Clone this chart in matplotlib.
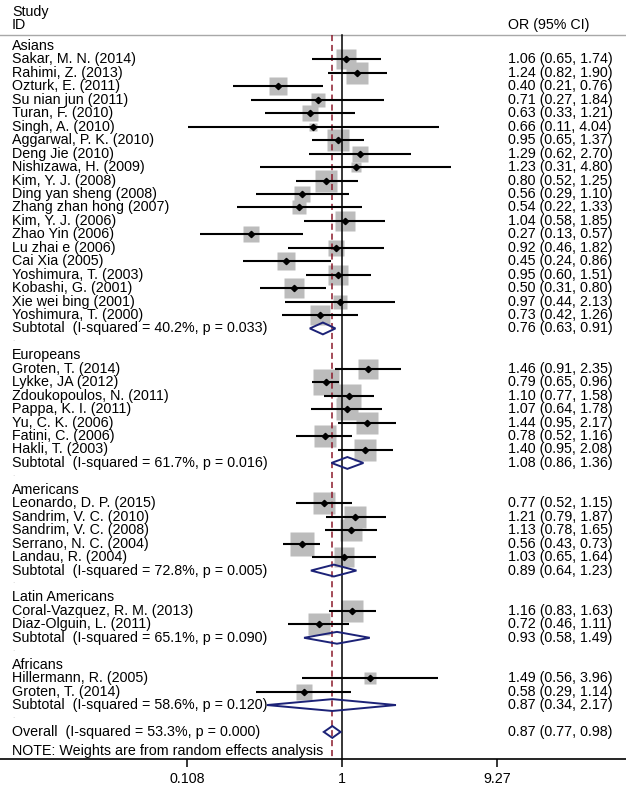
import numpy as np
import matplotlib
matplotlib.use("Agg")
import matplotlib.pyplot as plt
import matplotlib.transforms as mtransforms
from matplotlib.patches import Polygon

plt.rcParams['font.family'] = ['Liberation Sans', 'DejaVu Sans']

# ---------------------------------------------------------------- data ----
groups = ["Asians", "Europeans", "Americans", "Latin Americans", "Africans"]

studies = [
    ["Sakar, M. N. (2014)", "Rahimi, Z. (2013)", "Ozturk, E. (2011)", "Su nian jun (2011)",
     "Turan, F. (2010)", "Singh, A. (2010)", "Aggarwal, P. K. (2010)", "Deng Jie (2010)",
     "Nishizawa, H. (2009)", "Kim, Y. J. (2008)", "Ding yan sheng (2008)", "Zhang zhan hong (2007)",
     "Kim, Y. J. (2006)", "Zhao Yin (2006)", "Lu zhai e (2006)", "Cai Xia (2005)",
     "Yoshimura, T. (2003)", "Kobashi, G. (2001)", "Xie wei bing (2001)", "Yoshimura, T. (2000)"],
    ["Groten, T. (2014)", "Lykke, JA (2012)", "Zdoukopoulos, N. (2011)", "Pappa, K. I. (2011)",
     "Yu, C. K. (2006)", "Fatini, C. (2006)", "Hakli, T. (2003)"],
    ["Leonardo, D. P. (2015)", "Sandrim, V. C. (2010)", "Sandrim, V. C. (2008)",
     "Serrano, N. C. (2004)", "Landau, R. (2004)"],
    ["Coral-Vazquez, R. M. (2013)", "Diaz-Olguin, L. (2011)"],
    ["Hillermann, R. (2005)", "Groten, T. (2014)"],
]
odds = [
    [1.06, 1.24, 0.40, 0.71, 0.63, 0.66, 0.95, 1.29, 1.23, 0.80, 0.56, 0.54, 1.04, 0.27, 0.92, 0.45,
     0.95, 0.50, 0.97, 0.73],
    [1.46, 0.79, 1.10, 1.07, 1.44, 0.78, 1.40],
    [0.77, 1.21, 1.13, 0.56, 1.03],
    [1.16, 0.72],
    [1.49, 0.58],
]
lower = [
    [0.65, 0.82, 0.21, 0.27, 0.33, 0.11, 0.65, 0.62, 0.31, 0.52, 0.29, 0.22, 0.58, 0.13, 0.46, 0.24,
     0.60, 0.31, 0.44, 0.42],
    [0.91, 0.65, 0.77, 0.64, 0.95, 0.52, 0.95],
    [0.52, 0.79, 0.78, 0.43, 0.65],
    [0.83, 0.46],
    [0.56, 0.29],
]
upper = [
    [1.74, 1.90, 0.76, 1.84, 1.21, 4.04, 1.37, 2.70, 4.80, 1.25, 1.10, 1.33, 1.85, 0.57, 1.82, 0.86,
     1.51, 0.80, 2.13, 1.26],
    [2.35, 0.96, 1.58, 1.78, 2.17, 1.16, 2.08],
    [1.15, 1.87, 1.65, 0.73, 1.64],
    [1.63, 1.11],
    [3.96, 1.14],
]
# random effects weights (%)
weights = [
    [2.99, 3.30, 2.42, 1.47, 2.16, 0.48, 3.62, 1.92, 0.75, 3.30, 2.16, 1.47, 2.70, 1.92, 2.16, 2.42,
     2.99, 2.99, 1.68, 2.70],
    [2.99, 5.06, 4.31, 3.30, 3.62, 3.30, 3.62],
    [3.62, 3.30, 3.62, 4.31, 2.99],
    [3.62, 3.30],
    [1.26, 2.16],
]
sub_i2 = [40.2, 61.7, 72.8, 65.1, 58.6]
sub_p = [0.033, 0.016, 0.005, 0.090, 0.120]
sub_or = [0.76, 1.08, 0.89, 0.93, 0.87]
sub_lo = [0.63, 0.86, 0.64, 0.58, 0.34]
sub_hi = [0.91, 1.36, 1.23, 1.49, 2.17]

overall_i2, overall_p = 53.3, 0.000
overall_or, overall_lo, overall_hi = 0.87, 0.77, 0.98

xticks = [0.108, 1, 9.27]
xticklabels = ["0.108", "1", "9.27"]

# -------------------------------------------------------------- layout ----
W, H = 626, 787
px_row = 13.45          # pixels per row
y0_px = 46              # pixel of first row
axis_px = 759           # pixel of x axis
px_per_ln = 69.63
one_px = 342

fig = plt.figure(figsize=(W / 100, H / 100), dpi=100)
ax = fig.add_axes([0, (H - axis_px) / H, 1, axis_px / H])
ax.set_xscale('log')
ax.set_xlim(np.exp(-one_px / px_per_ln), np.exp((W - one_px) / px_per_ln))
ax.set_ylim((axis_px - y0_px) / px_row, -y0_px / px_row)

tr = mtransforms.blended_transform_factory(ax.transAxes, ax.transData)
fs = 10.3
xl = 12 / W
xr = 508 / W
navy = '#1c2277'
box_k = 20 / np.sqrt(2.99) * 0.72

def ci_text(o, l, h):
    return f"{o:.2f} ({l:.2f}, {h:.2f})"

def diamond(y, o, l, h):
    hh = 0.44
    d = Polygon([[l, y], [o, y - hh], [h, y], [o, y + hh]], closed=True,
                facecolor='none', edgecolor=navy, lw=1.4, zorder=6)
    ax.add_patch(d)

# header
ax.text(xl, -2.55, "Study", transform=tr, fontsize=fs, va='center')
ax.text(xl, -1.58, "ID", transform=tr, fontsize=fs, va='center')
ax.text(xr, -1.58, "OR (95% CI)", transform=tr, fontsize=fs, va='center')
ax.axhline(-0.82, color='#a8a8a8', lw=1.0)

row = 0
for g in range(len(groups)):
    ax.text(xl, row, groups[g], transform=tr, fontsize=fs, va='center')
    row += 1
    for i in range(len(studies[g])):
        o, l, h = odds[g][i], lower[g][i], upper[g][i]
        ax.text(xl, row, studies[g][i], transform=tr, fontsize=fs, va='center')
        ax.text(xr, row, ci_text(o, l, h), transform=tr, fontsize=fs, va='center')
        ax.plot([o], [row], marker='s', ms=box_k * np.sqrt(weights[g][i]),
                color='#bcbcbc', mec='none', zorder=2)
        ax.plot([l, h], [row, row], color='black', lw=1.5, solid_capstyle='butt', zorder=4)
        ax.plot([o], [row], marker='D', ms=3.2, color='black', zorder=5)
        row += 1
    ax.text(xl, row, f"Subtotal  (I-squared = {sub_i2[g]:.1f}%, p = {sub_p[g]:.3f})",
            transform=tr, fontsize=fs, va='center')
    ax.text(xr, row, ci_text(sub_or[g], sub_lo[g], sub_hi[g]), transform=tr, fontsize=fs, va='center')
    diamond(row, sub_or[g], sub_lo[g], sub_hi[g])
    row += 1
    ax.text(12 / W, row - 0.15, ".", transform=tr, fontsize=6, color='#c8c8c8', va='center')
    row += 1

ax.text(xl, row, f"Overall  (I-squared = {overall_i2:.1f}%, p = {overall_p:.3f})",
        transform=tr, fontsize=fs, va='center')
ax.text(xr, row, ci_text(overall_or, overall_lo, overall_hi), transform=tr, fontsize=fs, va='center')
diamond(row, overall_or, overall_lo, overall_hi)
ax.text(xl, row + 1.45, "NOTE: Weights are from random effects analysis", transform=tr,
        fontsize=fs, va='center')

# reference lines
ytop = -0.82
ybot = (axis_px - y0_px) / px_row
ax.plot([1, 1], [ytop, ybot], color='black', lw=1.1, zorder=3)
ax.plot([overall_or, overall_or], [ytop, ybot], color='#8b1a2b', lw=1.1,
        dashes=(4, 2.5), zorder=3)

# axis
for s in ['top', 'left', 'right']:
    ax.spines[s].set_visible(False)
ax.spines['bottom'].set_linewidth(1.2)
ax.set_yticks([])
ax.set_xticks(xticks)
ax.set_xticklabels(xticklabels, fontsize=fs)
ax.xaxis.set_minor_locator(matplotlib.ticker.NullLocator())
ax.tick_params(axis='x', length=5.8, width=1.1, pad=3.5)

fig.savefig("out.png", dpi=100)
